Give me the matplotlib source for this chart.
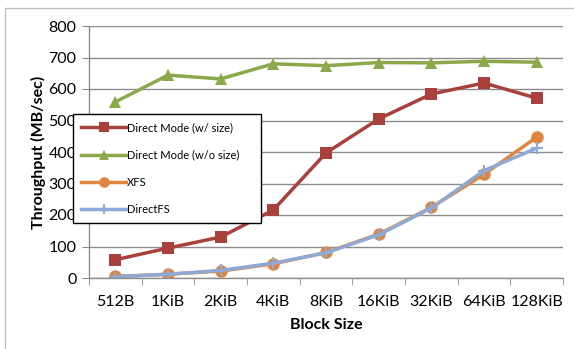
import matplotlib
matplotlib.use("Agg")
import matplotlib.pyplot as plt
from matplotlib.patches import Rectangle

plt.rcParams['font.family'] = ['Lato', 'DejaVu Sans']

block_sizes = ["512B", "1KiB", "2KiB", "4KiB", "8KiB", "16KiB", "32KiB", "64KiB", "128KiB"]
direct_with_size = [58, 95, 130, 216, 397, 505, 584, 619, 571]
direct_without_size = [559, 644, 632, 680, 674, 684, 683, 688, 685]
xfs = [5, 12, 22, 45, 81, 139, 224, 329, 447]
directfs = [4, 12, 24, 47, 80, 137, 222, 341, 412]

series = [
    ("Direct Mode (w/ size)", direct_with_size, "#a9403c", "s", 9),
    ("Direct Mode (w/o size)", direct_without_size, "#8aa94a", "^", 9),
    ("XFS", xfs, "#e0853e", "o", 9),
    ("DirectFS", directfs, "#8ea9d5", "+", 9),
]

fig = plt.figure(figsize=(5.74, 3.49), dpi=100)
ax = fig.add_axes([89 / 574, 71 / 349, 474 / 574, 252 / 349])

# chart frame (top and left edges visible)
fig.patches.append(Rectangle((5 / 574, -0.1), 1.2, (341 / 349) + 0.1, transform=fig.transFigure,
                             fill=False, edgecolor="#bfbfbf", linewidth=1.0))

x = list(range(len(block_sizes)))
for name, vals, color, marker, ms in series:
    mew = 1.5 if marker == "+" else 0
    ax.plot(x, vals, color=color, linewidth=2.5, marker=marker, markersize=ms,
            markeredgewidth=mew, markeredgecolor=color, label=name)

ax.set_xlim(-0.5, len(block_sizes) - 0.5)
ax.set_ylim(0, 800)
ax.set_yticks(range(0, 801, 100))
ax.set_xticks(x)
ax.set_xticklabels(block_sizes)
ax.set_xticks([i - 0.5 for i in range(len(block_sizes) + 1)], minor=True)

ax.grid(axis="y", color="#8c8c8c", linewidth=1.0)
ax.set_axisbelow(True)
for side in ("top", "right"):
    ax.spines[side].set_visible(False)
for side in ("left", "bottom"):
    ax.spines[side].set_color("#8c8c8c")
    ax.spines[side].set_linewidth(1.0)

ax.tick_params(axis="y", length=5, color="#8c8c8c", labelsize=11.5, pad=4)
ax.tick_params(axis="x", which="major", length=0, labelsize=11.5, pad=12)
ax.tick_params(axis="x", which="minor", length=5, color="#8c8c8c")

ax.set_xlabel("Block Size", fontsize=11.5, fontweight="bold", labelpad=7)
ax.set_ylabel("Throughput (MB/sec)", fontsize=11.5, fontweight="bold", labelpad=2)

leg = ax.legend(loc="upper left", bbox_to_anchor=(73 / 574, 125 / 349, 188 / 574, 110 / 349),
                bbox_transform=fig.transFigure, mode="expand", fontsize=8,
                frameon=True, fancybox=False, framealpha=1, borderaxespad=0,
                labelspacing=1.45, handlelength=4.0, handletextpad=0.1, borderpad=0.75,
                markerscale=0.85)
leg.get_frame().set_edgecolor("black")
leg.get_frame().set_linewidth(1.0)

fig.savefig("out.png", dpi=100)
